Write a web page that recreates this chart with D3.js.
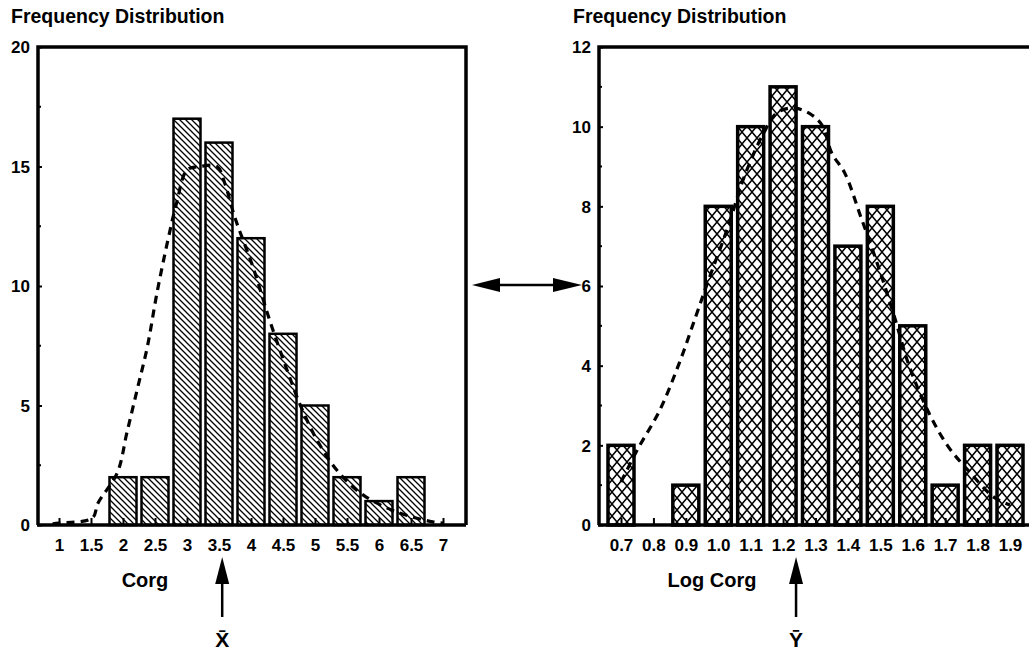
<!DOCTYPE html>
<html>
<head>
<meta charset="utf-8">
<script src="https://cdnjs.cloudflare.com/ajax/libs/d3/7.8.5/d3.min.js"></script>
<style>
  body { margin: 0; background: #fff; }
  svg { display: block; font-family: "Liberation Sans", Arial, sans-serif; }
  .tick text { font-weight: bold; font-size: 17px; fill: #000; }
  .tick line { stroke: #000; stroke-width: 2; }
</style>
</head>
<body>
<svg id="chart" width="1029" height="650"></svg>
<script>
// left panel: Corg
var corgBins = [1, 1.5, 2, 2.5, 3, 3.5, 4, 4.5, 5, 5.5, 6, 6.5, 7];
var corgCounts = [0, 0, 2, 2, 17, 16, 12, 8, 5, 2, 1, 2, 0];
var corgYTicks = [0, 5, 10, 15, 20];
var corgCurve = [[0.9, 0.05], [1.0, 0.08], [1.52, 0.29], [1.61, 0.92], [1.91, 2.18], [2.06, 3.85],
    [2.22, 5.65], [2.38, 7.45], [2.53, 9.7], [2.7, 11.9], [2.84, 13.5], [3.0, 14.85],
    [3.2, 15.0], [3.47, 15.0], [3.59, 14.3], [3.75, 12.85], [4.03, 10.8], [4.3, 8.5],
    [4.58, 6.36], [4.77, 5.02], [5.03, 3.56], [5.34, 2.3], [5.75, 1.26], [6.28, 0.54],
    [6.84, 0.13], [7.0, 0.08]];

// right panel: Log Corg
var logBins = [0.7, 0.8, 0.9, 1.0, 1.1, 1.2, 1.3, 1.4, 1.5, 1.6, 1.7, 1.8, 1.9];
var logCounts = [2, 0, 1, 8, 10, 11, 10, 7, 8, 5, 1, 2, 2];
var logYTicks = [0, 2, 4, 6, 8, 10, 12];
var logCurve = [[0.7, 1.08], [0.75, 1.88], [0.82, 2.89], [0.88, 4.07], [0.93, 5.22], [0.97, 6.15],
    [1.03, 7.48], [1.08, 8.74], [1.14, 9.84], [1.18, 10.34], [1.23, 10.47], [1.28, 10.34],
    [1.32, 10.04], [1.35, 9.34], [1.39, 8.84], [1.44, 7.73], [1.49, 6.58], [1.54, 5.32],
    [1.59, 3.97], [1.65, 2.81], [1.71, 1.96], [1.77, 1.38], [1.85, 0.7], [1.9, 0.5]];

var svg = d3.select('#chart');
var defs = svg.append('defs');

// hatch for left bars
var hatch = defs.append('pattern')
    .attr('id', 'hatch')
    .attr('patternUnits', 'userSpaceOnUse')
    .attr('width', 6).attr('height', 6);
hatch.append('path')
    .attr('d', 'M0,0L6,6M-1,5L1,7M5,-1L7,1')
    .attr('stroke', '#000').attr('stroke-width', 1.3);

// cross hatch for right bars
var cross = defs.append('pattern')
    .attr('id', 'cross')
    .attr('patternUnits', 'userSpaceOnUse')
    .attr('x', 2).attr('y', 0)
    .attr('width', 10).attr('height', 12);
cross.append('path')
    .attr('d', 'M0,0L10,12M10,0L0,12')
    .attr('stroke', '#000').attr('stroke-width', 1.5);

function panel(conf) {
    var x = d3.scaleLinear().domain(conf.xDomain).range(conf.xRange);
    var y = d3.scaleLinear().domain(conf.yDomain).range([525, 47]);
    var g = svg.append('g');
    var bins = conf.bins.map(function(b, i) { return {x: b, n: conf.counts[i]}; });

    g.selectAll('rect.bar')
        .data(bins.filter(function(d) { return d.n > 0; }))
        .enter().append('rect')
        .attr('class', 'bar')
        .attr('x', function(d) { return x(d.x) - conf.barW / 2; })
        .attr('y', function(d) { return y(d.n); })
        .attr('width', conf.barW)
        .attr('height', function(d) { return y(0) - y(d.n); })
        .attr('fill', 'url(#' + conf.pattern + ')')
        .attr('stroke', '#000')
        .attr('stroke-width', conf.barStroke);

    // x axis: inward ticks + labels
    var xa = g.append('g')
        .attr('transform', 'translate(0,525)')
        .call(d3.axisBottom(x).tickValues(conf.bins).tickSize(-7).tickPadding(14)
            .tickFormat(conf.xFormat));
    xa.select('.domain').remove();

    // y axis
    var ya = g.append('g')
        .attr('transform', 'translate(' + conf.xRange0 + ',0)')
        .call(d3.axisLeft(y).tickValues(conf.yTicks).tickSize(-4).tickPadding(conf.yPad)
            .tickFormat(d3.format('d')));
    ya.select('.domain').remove();
    ya.selectAll('text').attr('dy', '0.35em');

    g.selectAll('line.minor')
        .data(conf.minor)
        .enter().append('line')
        .attr('x1', conf.xRange0).attr('x2', conf.xRange0 + 3)
        .attr('y1', function(d) { return y(d); }).attr('y2', function(d) { return y(d); })
        .attr('stroke', '#000').attr('stroke-width', 2);

    // frame
    g.append('path')
        .attr('d', 'M' + conf.xRange0 + ',525V47H' + conf.frameR + (conf.closed ? 'V525' : '') +
            'M' + (conf.xRange0 - 1) + ',525H' + conf.frameR)
        .attr('fill', 'none').attr('stroke', '#000').attr('stroke-width', 3.5);

    // fitted curve
    var line = d3.line()
        .x(function(d) { return x(d[0]); })
        .y(function(d) { return y(d[1]); })
        .curve(d3.curveCatmullRom);
    g.append('path')
        .attr('d', line(conf.curve))
        .attr('fill', 'none').attr('stroke', '#000')
        .attr('stroke-width', 3.2).attr('stroke-dasharray', '8,6');

    g.append('text')
        .attr('x', conf.titleX).attr('y', 23)
        .attr('font-size', 19.5).attr('font-weight', 'bold')
        .text('Frequency Distribution');

    g.append('text')
        .attr('x', conf.labelX).attr('y', 587)
        .attr('text-anchor', 'middle')
        .attr('font-size', 20).attr('font-weight', 'bold')
        .text(conf.label);

    // mean arrow
    var ax = x(conf.mean);
    g.append('line')
        .attr('x1', ax).attr('x2', ax).attr('y1', 580).attr('y2', 617)
        .attr('stroke', '#000').attr('stroke-width', 2.5);
    g.append('path')
        .attr('d', 'M' + ax + ',557L' + (ax - 7) + ',584L' + (ax + 7) + ',584Z')
        .attr('fill', '#000');
    g.append('text')
        .attr('x', ax).attr('y', 647)
        .attr('text-anchor', 'middle')
        .attr('font-size', 21).attr('font-weight', 'bold')
        .text(conf.meanLabel);
}

panel({
    bins: corgBins, counts: corgCounts, yTicks: corgYTicks,
    minor: [2.5, 7.5, 12.5, 17.5],
    xDomain: [1, 7], xRange: [59, 443], xRange0: 38, frameR: 466, closed: true,
    yDomain: [0, 20], yPad: 8, barW: 27, barStroke: 2.5, pattern: 'hatch',
    xFormat: function(d) { return String(d); },
    curve: corgCurve, titleX: 11, label: 'Corg', labelX: 145,
    mean: 3.55, meanLabel: 'X\u0304'
});

panel({
    bins: logBins, counts: logCounts, yTicks: logYTicks,
    minor: [1, 3, 5, 7, 9, 11],
    xDomain: [0.7, 1.9], xRange: [621, 1010], xRange0: 599, frameR: 1029, closed: false,
    yDomain: [0, 12], yPad: 8, barW: 26, barStroke: 3.5, pattern: 'cross',
    xFormat: d3.format('.1f'),
    curve: logCurve, titleX: 573, label: 'Log Corg', labelX: 712,
    mean: 1.24, meanLabel: 'Y\u0304'
});

// double arrow linking panels
svg.append('line')
    .attr('x1', 495).attr('x2', 560).attr('y1', 285).attr('y2', 285)
    .attr('stroke', '#000').attr('stroke-width', 2.5);
svg.append('path')
    .attr('d', 'M472,285L500,278L500,292Z M582,285L553,278L553,292Z')
    .attr('fill', '#000');
</script>
</body>
</html>
